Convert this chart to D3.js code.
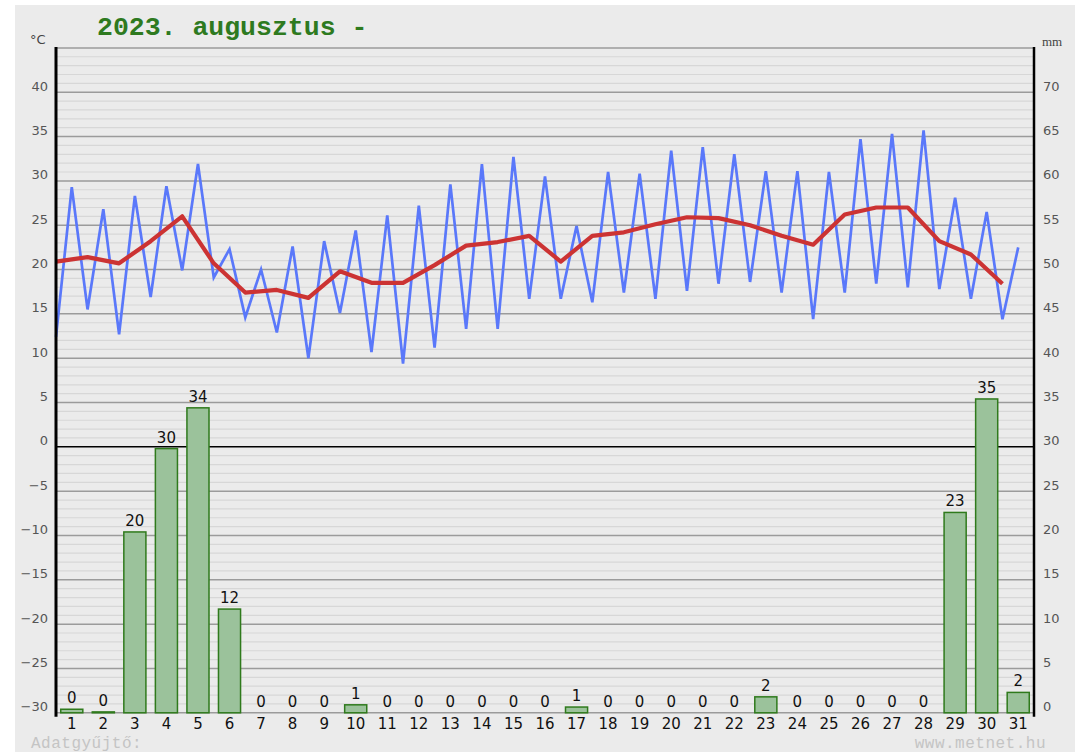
<!DOCTYPE html>
<html>
<head>
<meta charset="utf-8">
<script src="https://cdn.jsdelivr.net/npm/d3@7"></script>
<style>
  body { margin: 0; background: #fff; }
  svg { display: block; }
</style>
</head>
<body>
<div id="chart"></div>
<script>
// daily values, 2023 August
var days = ["1","2","3","4","5","6","7","8","9","10","11","12","13","14","15","16",
            "17","18","19","20","21","22","23","24","25","26","27","28","29","30","31"];
var tMin  = [12.4,15.5,12.7,16.9,19.9,19.1,14.6,12.9,10.0,15.1,10.7,9.4,11.2,13.3,13.3,16.7,
             16.7,16.3,17.4,16.7,17.6,18.4,18.6,17.4,14.4,17.4,18.4,18.0,17.8,16.7,14.4];
var tMax  = [29.3,26.8,28.3,29.4,31.9,22.3,20.0,22.6,23.2,24.4,26.1,27.2,29.6,31.9,32.7,30.5,
             24.9,31.0,30.8,33.4,33.8,33.0,31.1,31.1,31.0,34.7,35.3,35.7,28.1,26.5,22.5];
var tMean = [20.9,21.4,20.7,23.2,26.0,20.7,17.4,17.7,16.8,19.8,18.5,18.5,20.5,22.7,23.1,23.8,
             20.9,23.8,24.2,25.1,25.9,25.8,25.0,23.8,22.8,26.2,27.0,27.0,23.2,21.7,18.4];
var precip = [0.4,0.1,20.4,29.8,34.4,11.7,0,0,0,0.9,0,0,0,0,0,0,
              0.65,0,0,0,0,0,1.8,0,0,0,0,0,22.6,35.4,2.3];
var tempTicks = [-30,-25,-20,-15,-10,-5,0,5,10,15,20,25,30,35,40];
var mmTicks = [0,5,10,15,20,25,30,35,40,45,50,55,60,65,70];
var title = "2023. augusztus -";

var W = 1075, H = 752;
var pLeft = 56, pRight = 1034, pTop = 47.9, pBottom = 712.8;

var svg = d3.select("#chart").append("svg")
    .attr("width", W)
    .attr("height", H);

// grey panel
svg.append("rect")
    .attr("x", 15).attr("y", 5)
    .attr("width", W - 15).attr("height", H - 5)
    .attr("fill", "#ebebeb");

var x = d3.scaleBand().domain(days).range([pLeft, pRight])
    .paddingInner(0.3).paddingOuter(0.15);
var yT = d3.scaleLinear().domain([-30, 45]).range([pBottom, pTop]);
var yP = d3.scaleLinear().domain([0, 75]).range([pBottom, pTop]);

function center(d) { return x(d) + x.bandwidth() / 2; }
function edge(d) { return center(d) - x.step() / 2; }

// minor grid, every degree
svg.append("g").selectAll("line")
    .data(yT.ticks(75).filter(function (t) { return t % 5 != 0; }))
    .enter().append("line")
    .attr("x1", pLeft).attr("x2", pRight)
    .attr("y1", function (t) { return yT(t); })
    .attr("y2", function (t) { return yT(t); })
    .attr("stroke", "#d7d7d7")
    .attr("stroke-width", 1.2);

// major grid, every 5 degrees
svg.append("g").selectAll("line")
    .data(tempTicks.concat([45]).filter(function (t) { return t != 0; }))
    .enter().append("line")
    .attr("x1", pLeft).attr("x2", pRight)
    .attr("y1", function (t) { return yT(t); })
    .attr("y2", function (t) { return yT(t); })
    .attr("stroke", "#9b9b9b")
    .attr("stroke-width", 1.5);

// zero line
svg.append("line")
    .attr("x1", pLeft).attr("x2", pRight)
    .attr("y1", yT(0)).attr("y2", yT(0))
    .attr("stroke", "#000")
    .attr("stroke-width", 1.5);

// precipitation bars
var bars = svg.append("g");
bars.selectAll("rect")
    .data(days)
    .enter().append("rect")
    .attr("x", function (d) { return x(d); })
    .attr("width", x.bandwidth())
    .attr("y", function (d, i) { return yP(precip[i]); })
    .attr("height", function (d, i) { return yP(0) - yP(precip[i]); })
    .attr("fill", "#9bc29b")
    .attr("stroke", "#2f7a1c")
    .attr("stroke-width", function (d, i) { return precip[i] > 0 ? 1.5 : 1; });

bars.selectAll("text")
    .data(days)
    .enter().append("text")
    .attr("x", function (d) { return center(d); })
    .attr("y", function (d, i) { return yP(precip[i]) - 6; })
    .attr("text-anchor", "middle")
    .attr("font-family", "DejaVu Sans, Verdana, sans-serif")
    .attr("font-size", 15)
    .attr("fill", "#111")
    .text(function (d, i) { return Math.round(precip[i]); });

// min/max temperature: min at the start of the day, max at midday
var mmPoints = [];
days.forEach(function (d, i) {
    mmPoints.push([edge(d), tMin[i]]);
    mmPoints.push([center(d), tMax[i]]);
});
var line = d3.line()
    .x(function (p) { return p[0]; })
    .y(function (p) { return yT(p[1]); });

svg.append("path")
    .datum(mmPoints)
    .attr("d", line)
    .attr("fill", "none")
    .attr("stroke", "#5a78fa")
    .attr("stroke-width", 2.7)
    .attr("stroke-linejoin", "miter");

svg.append("path")
    .datum(days.map(function (d, i) { return [edge(d), tMean[i]]; }))
    .attr("d", line)
    .attr("fill", "none")
    .attr("stroke", "#cc3333")
    .attr("stroke-width", 4.2)
    .attr("stroke-linejoin", "round");

// axis frames
svg.append("line")
    .attr("x1", pLeft).attr("x2", pLeft)
    .attr("y1", pTop - 1).attr("y2", pBottom + 4)
    .attr("stroke", "#000").attr("stroke-width", 3);
svg.append("line")
    .attr("x1", pRight).attr("x2", pRight)
    .attr("y1", pTop - 1).attr("y2", pBottom + 4)
    .attr("stroke", "#000").attr("stroke-width", 2.5);

// left axis, degrees
var axL = svg.append("g")
    .attr("transform", "translate(" + (pLeft - 8) + ",0)")
    .call(d3.axisLeft(yT).tickValues(tempTicks).tickSize(0).tickPadding(0));
axL.select(".domain").remove();
axL.selectAll("text")
    .attr("dy", "-0.15em")
    .attr("font-family", "DejaVu Sans, Verdana, sans-serif")
    .attr("font-size", 13)
    .attr("fill", "#555");

// right axis, millimetres
var axR = svg.append("g")
    .attr("transform", "translate(" + (pRight + 9) + ",0)")
    .call(d3.axisRight(yP).tickValues(mmTicks).tickSize(0).tickPadding(0));
axR.select(".domain").remove();
axR.selectAll("text")
    .attr("dy", "-0.15em")
    .attr("font-family", "DejaVu Sans, Verdana, sans-serif")
    .attr("font-size", 13)
    .attr("fill", "#555");

// day axis
var axB = svg.append("g")
    .attr("transform", "translate(0," + (pBottom + 2) + ")")
    .call(d3.axisBottom(x).tickSize(0).tickPadding(0));
axB.select(".domain").remove();
axB.selectAll("text")
    .attr("dy", "0.95em")
    .attr("font-family", "DejaVu Sans, Verdana, sans-serif")
    .attr("font-size", 15)
    .attr("fill", "#111");

// units
svg.append("text")
    .attr("x", 30).attr("y", 44)
    .attr("font-family", "DejaVu Sans, Verdana, sans-serif")
    .attr("font-size", 13)
    .attr("fill", "#444")
    .text("°C");
svg.append("text")
    .attr("x", 1042).attr("y", 46)
    .attr("font-family", "Liberation Serif, serif")
    .attr("font-size", 13)
    .attr("fill", "#444")
    .text("mm");

// title
svg.append("text")
    .attr("x", 97).attr("y", 35)
    .attr("font-family", "Liberation Mono, Courier New, monospace")
    .attr("font-weight", "bold")
    .attr("font-size", 26.5)
    .attr("fill", "#2e7a1f")
    .text(title);

// footer
svg.append("text")
    .attr("x", 31).attr("y", 748)
    .attr("font-family", "Liberation Mono, Courier New, monospace")
    .attr("font-size", 16)
    .attr("letter-spacing", 0.5)
    .attr("fill", "#c4c4c4")
    .text("Adatgyűjtő:");
svg.append("text")
    .attr("x", 1046).attr("y", 748)
    .attr("text-anchor", "end")
    .attr("font-family", "Liberation Mono, Courier New, monospace")
    .attr("font-size", 16)
    .attr("letter-spacing", 0.5)
    .attr("fill", "#c4c4c4")
    .text("www.metnet.hu");
</script>
</body>
</html>
